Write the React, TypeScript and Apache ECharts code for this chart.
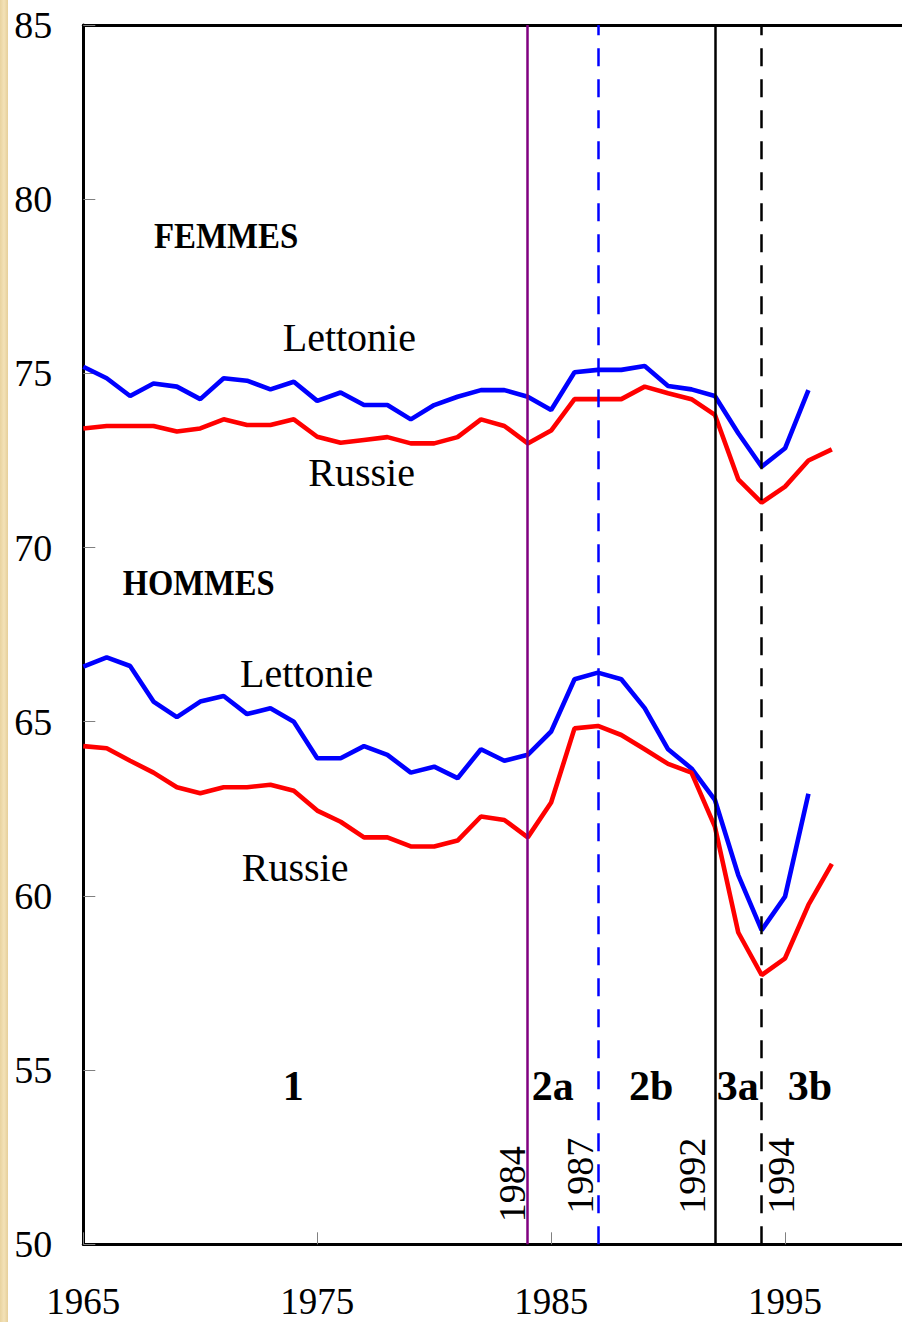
import React, { useEffect, useRef } from "react";
import * as echarts from "echarts";

// Years
const yearsLV = Array.from({ length: 32 }, (_, i) => 1965 + i); // 1965..1996
const yearsRU = Array.from({ length: 33 }, (_, i) => 1965 + i); // 1965..1997

// Women (FEMMES)
const femmesLettonie = [
  75.19, 74.86, 74.35, 74.71, 74.62, 74.26, 74.86, 74.79, 74.54, 74.76,
  74.21, 74.45, 74.09, 74.09, 73.68, 74.09, 74.33, 74.52, 74.52, 74.33,
  73.95, 75.03, 75.1, 75.1, 75.21, 74.64, 74.54, 74.35, 73.28, 72.32,
  72.85, 74.52,
];
const femmesRussie = [
  73.42, 73.49, 73.49, 73.49, 73.33, 73.42, 73.68, 73.52, 73.52, 73.68,
  73.18, 73.01, 73.09, 73.17, 72.99, 72.99, 73.17, 73.68, 73.49, 72.99,
  73.36, 74.26, 74.26, 74.26, 74.62, 74.43, 74.26, 73.81, 71.96, 71.29,
  71.75, 72.5, 72.82,
];

// Men (HOMMES)
const hommesLettonie = [
  66.58, 66.85, 66.6, 65.58, 65.13, 65.58, 65.74, 65.22, 65.39, 65.0,
  63.95, 63.95, 64.3, 64.05, 63.54, 63.71, 63.38, 64.21, 63.88, 64.05,
  64.72, 66.22, 66.41, 66.22, 65.39, 64.21, 63.66, 62.76, 60.6, 59.02,
  59.98, 62.93,
];
const hommesRussie = [
  64.3, 64.24, 63.88, 63.54, 63.12, 62.95, 63.12, 63.12, 63.19, 63.02,
  62.45, 62.13, 61.68, 61.68, 61.42, 61.42, 61.59, 62.28, 62.18, 61.68,
  62.68, 64.81, 64.88, 64.62, 64.21, 63.79, 63.54, 61.99, 58.95, 57.73,
  58.21, 59.74, 60.92,
];

// Period boundaries
const periodYears = [1984, 1987, 1992, 1994];
const periodColors = ["#800080", "#0000FF", "#000000", "#000000"];
const periodDashed = [false, true, false, true];
const periodNames = ["1", "2a", "2b", "3a", "3b"];

const xMin = 1965;
const xMax = 2000;
const yMin = 50;
const yMax = 85;

const serif = "'Liberation Serif', 'Times New Roman', serif";

function pairs(years: number[], vals: number[]) {
  return vals.map((v, i) => [years[i], v]);
}

export default function App() {
  const ref = useRef<HTMLDivElement>(null);

  useEffect(() => {
    if (!ref.current) return;
    const chart = echarts.init(ref.current, null, { renderer: "svg" });

    const lineSeries = (name: string, data: number[][], color: string) => ({
      name,
      type: "line",
      data,
      symbol: "none",
      lineStyle: { color, width: 4.6 },
      z: 3,
    });

    const periodNameX = [282.7, 531.7, 629, 716.7, 787.7];

    const rotatedLabelPos = [
      [512.2, 1184.2],
      [580, 1175.8],
      [691.7, 1175.8],
      [780.8, 1175.8],
    ];

    const graphics: any[] = [
      {
        type: "rect",
        shape: { x: 0, y: 0, width: 8, height: 1322 },
        style: {
          fill: new echarts.graphic.LinearGradient(0, 0, 1, 0, [
            { offset: 0, color: "#E8D3A0" },
            { offset: 0.5, color: "#F3E2B8" },
            { offset: 1, color: "#E6CF9A" },
          ]),
        },
        silent: true,
        z: -10,
      },
      {
        type: "text",
        x: 154,
        y: 235.7,
        scaleX: 0.94,
        style: {
          text: "FEMMES",
          font: `bold 35px ${serif}`,
          fill: "#000",
          align: "left",
          verticalAlign: "middle",
        },
        z: 20,
      },
      {
        type: "text",
        x: 122.7,
        y: 583.3,
        scaleX: 0.93,
        style: {
          text: "HOMMES",
          font: `bold 35px ${serif}`,
          fill: "#000",
          align: "left",
          verticalAlign: "middle",
        },
        z: 20,
      },
      ...[
        ["Lettonie", 282.7, 337.2],
        ["Russie", 308.3, 472.5],
        ["Lettonie", 240, 673.7],
        ["Russie", 241.7, 867.5],
      ].map(([t, x, y]) => ({
        type: "text",
        x,
        y,
        style: {
          text: t,
          font: `40px ${serif}`,
          fill: "#000",
          align: "left",
          verticalAlign: "middle",
        },
        z: 20,
      })),
      ...periodNames.map((t, i) => ({
        type: "text",
        x: periodNameX[i],
        y: 1086.2,
        style: {
          text: t,
          font: `bold 42px ${serif}`,
          fill: "#000",
          align: "left",
          verticalAlign: "middle",
        },
        z: 20,
      })),
      ...periodYears.map((yr, i) => ({
        type: "text",
        x: rotatedLabelPos[i][0],
        y: rotatedLabelPos[i][1],
        rotation: Math.PI / 2,
        style: {
          text: String(yr),
          font: `38px ${serif}`,
          fill: "#000",
          align: "center",
          verticalAlign: "middle",
        },
        z: 20,
      })),
    ];

    chart.setOption({
      animation: false,
      backgroundColor: "#FFFFFF",
      grid: {
        left: 83.3,
        top: 25,
        width: 821.7,
        height: 1219.3,
        show: false,
      },
      xAxis: [
        {
          type: "value",
          min: xMin,
          max: xMax,
          interval: 10,
          splitLine: { show: false },
          axisLine: { show: true, lineStyle: { color: "#000", width: 3 } },
          axisTick: {
            show: true,
            inside: true,
            length: 12,
            lineStyle: { color: "#808080", width: 1 },
          },
          axisLabel: {
            show: true,
            margin: 42,
            lineHeight: 30,
            fontFamily: serif,
            fontSize: 37,
            color: "#000",
            showMaxLabel: false,
            formatter: (v: number) => ((v - xMin) % 10 === 0 ? String(v) : ""),
          },
        },
        {
          type: "value",
          position: "top",
          min: xMin,
          max: xMax,
          interval: 10,
          splitLine: { show: false },
          axisLine: { show: true, lineStyle: { color: "#000", width: 3 } },
          axisTick: { show: false },
          axisLabel: { show: false },
        },
      ],
      yAxis: {
        type: "value",
        min: yMin,
        max: yMax,
        interval: 5,
        splitLine: { show: false },
        axisLine: { show: true, lineStyle: { color: "#000", width: 3 } },
        axisTick: {
          show: true,
          inside: true,
          length: 12,
          lineStyle: { color: "#808080", width: 1 },
        },
        axisLabel: {
          show: true,
          margin: 31,
          fontFamily: serif,
          fontSize: 38,
          color: "#000",
        },
      },
      graphic: graphics,
      series: [
        lineSeries("Lettonie femmes", pairs(yearsLV, femmesLettonie), "#0000FF"),
        lineSeries("Russie femmes", pairs(yearsRU, femmesRussie), "#FF0000"),
        lineSeries("Lettonie hommes", pairs(yearsLV, hommesLettonie), "#0000FF"),
        lineSeries("Russie hommes", pairs(yearsRU, hommesRussie), "#FF0000"),
        {
          name: "periodes",
          type: "line",
          data: [],
          symbol: "none",
          z: 10,
          markLine: {
            silent: true,
            symbol: ["none", "none"],
            label: { show: false },
            animation: false,
            data: periodYears.map((yr, i) => ({
              xAxis: yr,
              lineStyle: {
                color: periodColors[i],
                width: 2.5,
                type: periodDashed[i] ? [18, 13] : "solid",
              },
            })),
          },
        },
      ],
    });

    return () => chart.dispose();
  }, []);

  return (
    <div
      ref={ref}
      style={{ position: "fixed", left: 0, top: 0, width: 902, height: 1322 }}
    />
  );
}
